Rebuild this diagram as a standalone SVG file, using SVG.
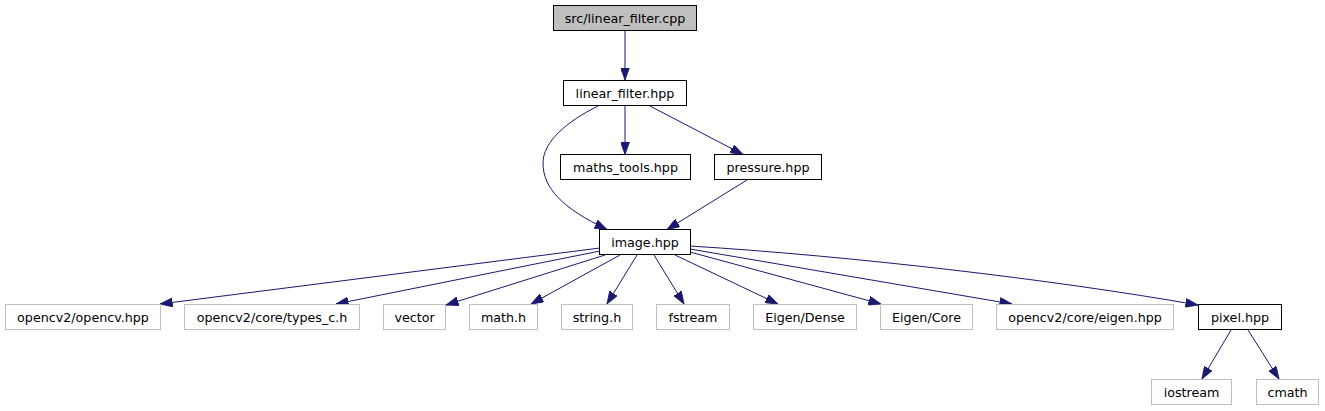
<svg xmlns="http://www.w3.org/2000/svg" width="1325" height="411" viewBox="0 0 1325 411">
<style>
  .node rect { fill: #ffffff; stroke: #000000; stroke-width: 1; }
  .node.ext rect { stroke: #bfbfbf; }
  .node.root rect { fill: #bfbfbf; }
  .node text { font-family: "DejaVu Sans", "Liberation Sans", sans-serif; font-size: 12.7px; fill: #000000; text-anchor: middle; }
  .edges path { fill: none; stroke: #191970; stroke-width: 1; marker-end: url(#arr); }
</style>
<defs>
  <marker id="arr" markerUnits="userSpaceOnUse" viewBox="0 0 12.5 9" markerWidth="12.5" markerHeight="9" refX="12.5" refY="4.5" orient="auto">
    <path d="M0,0 L12.5,4.5 L0,9 z" fill="#191970" stroke="#191970" stroke-width="0.8"/>
  </marker>
</defs>
<rect width="1325" height="411" fill="#ffffff"/>
<g class="edges">
  <path d="M625,31 L625,80"/>
  <path d="M625,106 L625,154.5"/>
  <path d="M650,106 L743,154.5"/>
  <path d="M598,106 C566,122 543,142 543,163 C543,188 562,208 607,229.5"/>
  <path d="M747,180 L667,229.5"/>
  <path d="M600,248 L160,304"/>
  <path d="M600,251 L336,304"/>
  <path d="M605,255 L446,305"/>
  <path d="M620,255 L531,304"/>
  <path d="M637,255 L607,304"/>
  <path d="M654,255 L684,304"/>
  <path d="M675,255 L778,304"/>
  <path d="M690,252 L881,304"/>
  <path d="M690,249 L1012,304"/>
  <path d="M690,246 C850,256 1050,279 1198,305"/>
  <path d="M1231,330 L1202,379"/>
  <path d="M1248,330 L1279,379"/>
</g>
<g id="node_root" class="node root"><rect x="553.5" y="5.5" width="143" height="25"/><text x="625" y="22.5">src/linear_filter.cpp</text></g>
<g id="node_linear_filter" class="node"><rect x="563.5" y="80.5" width="123" height="25"/><text x="625" y="97.5">linear_filter.hpp</text></g>
<g id="node_maths_tools" class="node"><rect x="560.5" y="154.5" width="130" height="25"/><text x="625.5" y="171.5">maths_tools.hpp</text></g>
<g id="node_pressure" class="node"><rect x="714.5" y="154.5" width="107" height="25"/><text x="768" y="171.5">pressure.hpp</text></g>
<g id="node_image" class="node"><rect x="599.5" y="229.5" width="91" height="25"/><text x="645" y="246.5">image.hpp</text></g>
<g id="node_opencv" class="node ext"><rect x="5.5" y="304.5" width="155" height="25"/><text x="83" y="321.5">opencv2/opencv.hpp</text></g>
<g id="node_types_c" class="node ext"><rect x="184.5" y="304.5" width="175" height="25"/><text x="272" y="321.5">opencv2/core/types_c.h</text></g>
<g id="node_vector" class="node ext"><rect x="383.5" y="304.5" width="62" height="25"/><text x="414.5" y="321.5">vector</text></g>
<g id="node_math_h" class="node ext"><rect x="469.5" y="304.5" width="68" height="25"/><text x="503.5" y="321.5">math.h</text></g>
<g id="node_string_h" class="node ext"><rect x="561.5" y="304.5" width="71" height="25"/><text x="597" y="321.5">string.h</text></g>
<g id="node_fstream" class="node ext"><rect x="656.5" y="304.5" width="73" height="25"/><text x="693" y="321.5">fstream</text></g>
<g id="node_eigen_dense" class="node ext"><rect x="753.5" y="304.5" width="103" height="25"/><text x="805" y="321.5">Eigen/Dense</text></g>
<g id="node_eigen_core" class="node ext"><rect x="880.5" y="304.5" width="92" height="25"/><text x="926.5" y="321.5">Eigen/Core</text></g>
<g id="node_cv_eigen" class="node ext"><rect x="996.5" y="304.5" width="177" height="25"/><text x="1085" y="321.5">opencv2/core/eigen.hpp</text></g>
<g id="node_pixel" class="node"><rect x="1198.5" y="304.5" width="83" height="25"/><text x="1240" y="321.5">pixel.hpp</text></g>
<g id="node_iostream" class="node ext"><rect x="1151.5" y="379.5" width="80" height="25"/><text x="1191.5" y="396.5">iostream</text></g>
<g id="node_cmath" class="node ext"><rect x="1256.5" y="379.5" width="62" height="25"/><text x="1287.5" y="396.5">cmath</text></g>
</svg>
